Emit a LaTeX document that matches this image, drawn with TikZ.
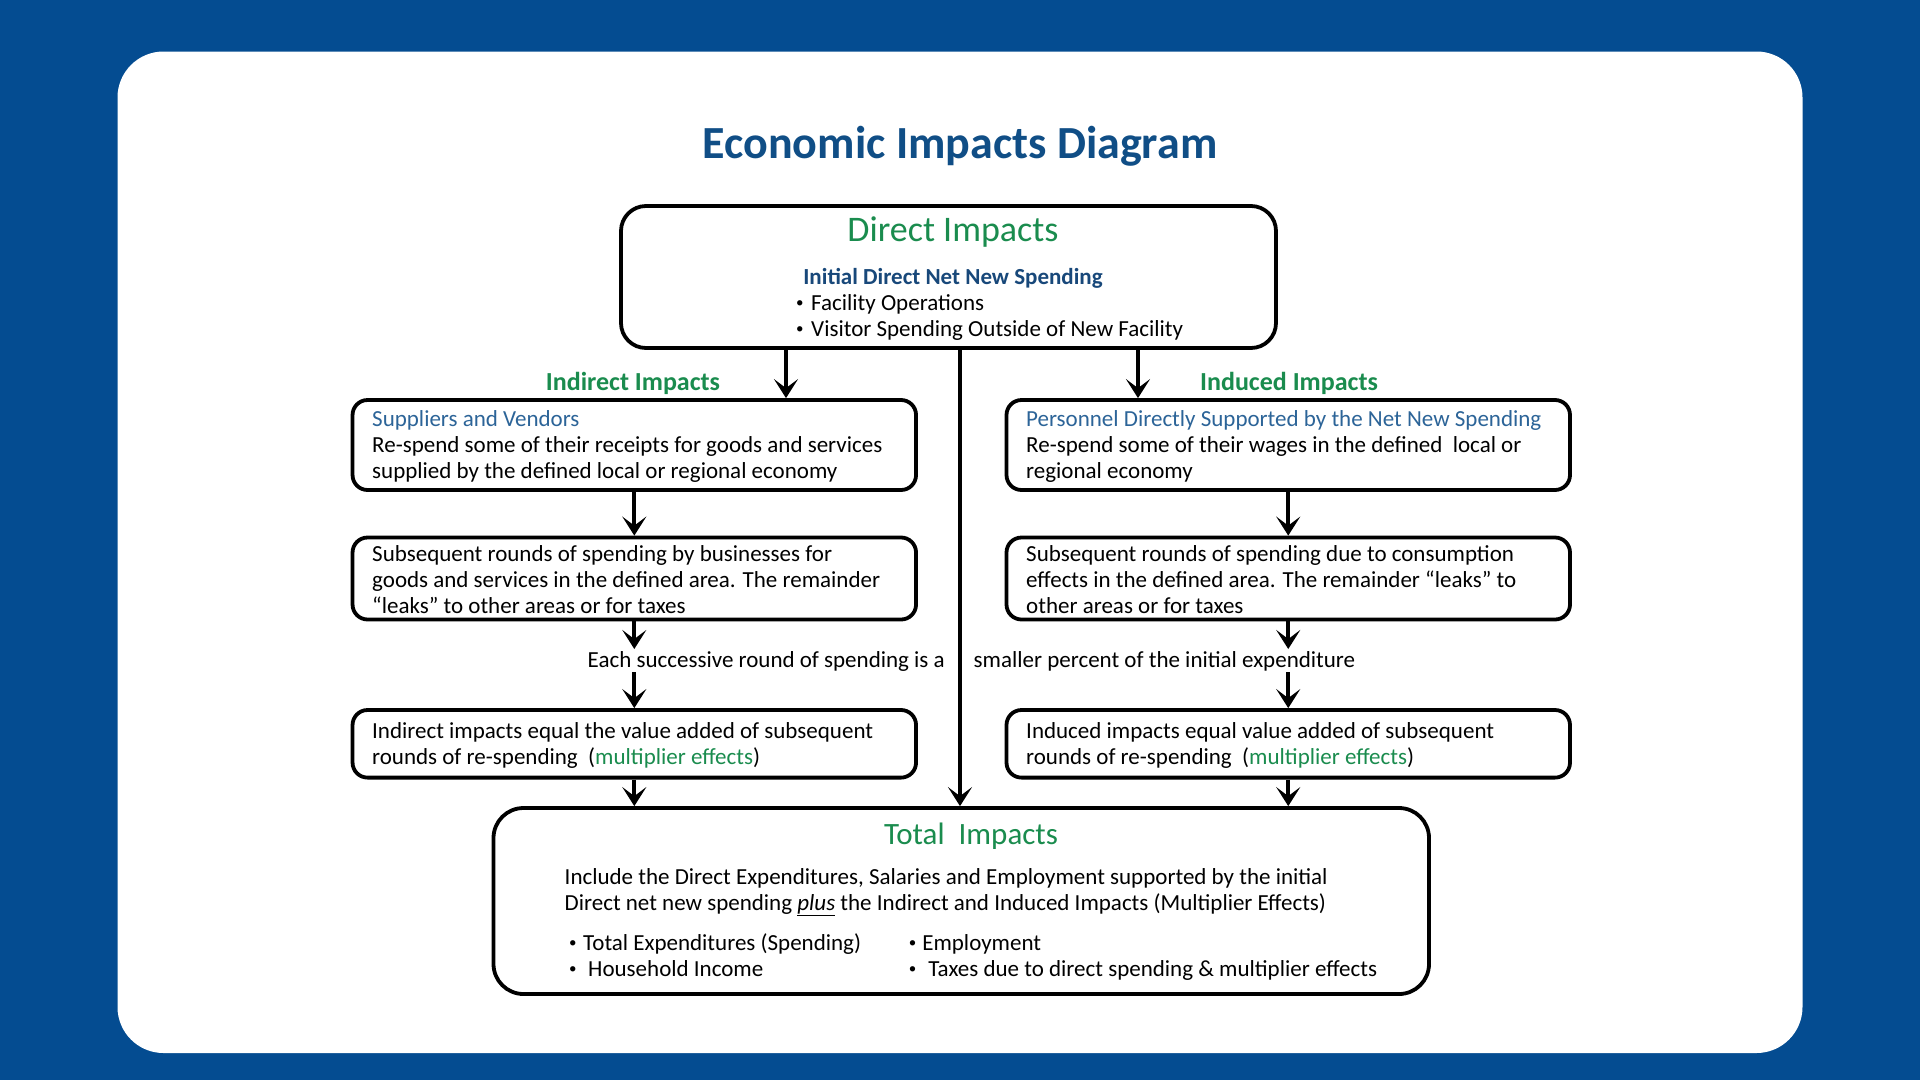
\documentclass[tikz,border=0pt]{standalone}
\usepackage{fontspec}
\setmainfont{Carlito}
\usetikzlibrary{arrows.meta}
\definecolor{bgblue}{RGB}{4,76,145}
\definecolor{titleblue}{RGB}{16,78,134}
\definecolor{hgreen}{RGB}{26,140,78}
\definecolor{subblue}{RGB}{44,100,152}
\definecolor{darksub}{RGB}{24,72,122}
\newcommand{\bul}[1]{\makebox[#1][l]{\raisebox{0.12em}{\fontsize{15}{15}\selectfont •}}}
\begin{document}
\begin{tikzpicture}[x=1pt,y=-1pt,
  box/.style={draw=black, line width=3.8pt, rounded corners=15pt, inner sep=0pt},
  sidebox/.style={box, minimum width=563.5pt},
  arr/.style={line width=3.8pt, -{Stealth[length=19pt,width=24pt,inset=9pt]}},
  body/.style={font=\fontsize{23}{26}\selectfont, align=left, inner sep=0pt, text=black},
  bighead/.style={font=\fontsize{36}{40}\selectfont, text=hgreen, inner sep=0pt},
  smallhead/.style={font=\bfseries\fontsize{26}{30}\selectfont, text=hgreen, inner sep=0pt}
]
\useasboundingbox (0,0) rectangle (1920,1080);
\fill[bgblue] (0,0) rectangle (1920,1080);
\fill[white, rounded corners=46pt] (117.5,51.5) rectangle (1802.5,1053);

% title
\node[font=\bfseries\fontsize{46}{50}\selectfont, text=titleblue, inner sep=0pt] (title) at (960,146) {Economic Impacts Diagram};

% direct box
\node[box, rounded corners=25pt, minimum width=655pt, minimum height=142pt] (direct) at (948.5,277) {};
\node[bighead] (dhead) at (953,232) {Direct Impacts};
\node[body, font=\bfseries\fontsize{23}{26}\selectfont, text=darksub] (dsub) at (953,278) {Initial Direct Net New Spending};
\node[body, anchor=west] (dlist) at (796,318.5) {\strut\bul{15pt}Facility Operations\\ \strut\bul{15pt}Visitor Spending Outside of New Facility};

% side headings
\node[smallhead] (hindir) at (633,383) {Indirect Impacts};
\node[smallhead] (hindu) at (1289,383) {Induced Impacts};

% left column
\node[sidebox, minimum height=90pt] (supL) at (634.3,445) {};
\node[body, anchor=west] (supLt) at (372,446) {\textcolor{subblue}{Suppliers and Vendors}\\Re-spend some of their receipts for goods and services\\supplied by the defined local or regional economy};
\node[sidebox, minimum height=82pt] (subL) at (634.3,578.5) {};
\node[body, anchor=west] (subLt) at (372,579.5) {Subsequent rounds of spending by businesses for\\goods and services in the defined area. The remainder\\“leaks” to other areas or for taxes};
\node[sidebox, minimum height=67.6pt] (resL) at (634.3,743.8) {};
\node[body, anchor=west] (resLt) at (372,745) {Indirect impacts equal the value added of subsequent\\rounds of re-spending \ (\textcolor{hgreen}{multiplier effects})};

% right column
\node[sidebox, minimum height=90pt] (supR) at (1288.25,445) {};
\node[body, anchor=west] (supRt) at (1026,446) {\textcolor{subblue}{Personnel Directly Supported by the Net New Spending}\\Re-spend some of their wages in the defined \ local or\\regional economy};
\node[sidebox, minimum height=82pt] (subR) at (1288.25,578.5) {};
\node[body, anchor=west] (subRt) at (1026,579.5) {Subsequent rounds of spending due to consumption\\effects in the defined area. The remainder “leaks” to\\other areas or for taxes};
\node[sidebox, minimum height=67.6pt] (resR) at (1288.25,743.8) {};
\node[body, anchor=west] (resRt) at (1026,745) {Induced impacts equal value added of subsequent\\rounds of re-spending \ (\textcolor{hgreen}{multiplier effects})};

% middle text
\node[body, anchor=east] (midL) at (945,661.5) {Each successive round of spending is a};
\node[body, anchor=west] (midR) at (973.5,661.5) {smaller percent of the initial expenditure};

% total box
\node[box, rounded corners=30pt, minimum width=935.5pt, minimum height=186pt] (total) at (961.25,901) {};
\node[bighead, font=\fontsize{31}{35}\selectfont] (thead) at (971,836) {Total \ Impacts};
\node[body, anchor=west] (tbody) at (564.5,892) {Include the Direct Expenditures, Salaries and Employment supported by the initial\\Direct net new spending \underline{\textit{plus}} the Indirect and Induced Impacts (Multiplier Effects)};
\node[body, anchor=west] (tlist1) at (569,958) {\strut\bul{14pt}Total Expenditures (Spending)\\\strut\bul{19pt}Household Income};
\node[body, anchor=west] (tlist2) at (908.6,958) {\strut\bul{13.5pt}Employment\\\strut\bul{19.5pt}Taxes due to direct spending \& multiplier effects};

% connectors
\coordinate (xl) at (786,0);
\coordinate (xc) at (960,0);
\coordinate (xr) at (1138,0);
\coordinate (mlA) at (634.3,649);
\coordinate (mlB) at (634.3,672);
\coordinate (mrA) at (1288.25,649);
\coordinate (mrB) at (1288.25,672);

\draw[arr] (xl |- direct.south) -- (xl |- supL.north);
\draw[arr] (xr |- direct.south) -- (xr |- supR.north);
\draw[arr] (xc |- direct.south) -- (xc |- total.north);

\draw[arr] (supL.south) -- (subL.north);
\draw[arr] (subL.south) -- (mlA);
\draw[arr] (mlB) -- (resL.north);
\draw[arr] (resL.south) -- (resL.south |- total.north);

\draw[arr] (supR.south) -- (subR.north);
\draw[arr] (subR.south) -- (mrA);
\draw[arr] (mrB) -- (resR.north);
\draw[arr] (resR.south) -- (resR.south |- total.north);
\end{tikzpicture}
\end{document}
